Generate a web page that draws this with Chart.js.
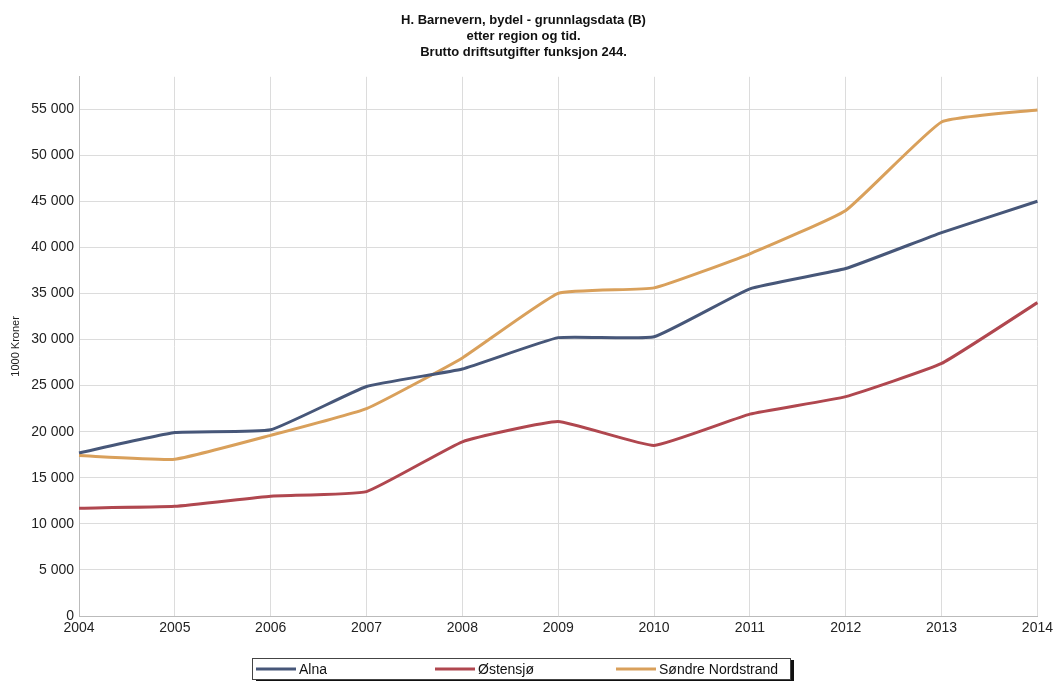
<!DOCTYPE html>
<html>
<head>
<meta charset="utf-8">
<title>Brutto driftsutgifter funksjon 244</title>
<script src="https://cdn.jsdelivr.net/npm/chart.js@4/dist/chart.umd.min.js"></script>
<style>
  html, body { margin: 0; padding: 0; background: #fff; }
  #wrap { width: 1057px; height: 682px; position: relative; }
</style>
</head>
<body>
<div id="wrap"><canvas id="chart"></canvas></div>
<script>
// years on the x axis
const years = ["2004", "2005", "2006", "2007", "2008", "2009", "2010", "2011", "2012", "2013", "2014"];

// y axis ticks, 1000 kroner
const yTicks = [0, 5000, 10000, 15000, 20000, 25000, 30000, 35000, 40000, 45000, 50000, 55000];

// 1000 kroner per bydel
const alna = [17700, 19900, 20200, 24900, 26800, 30200, 30300, 35500, 37700, 41600, 45000];
const ostensjo = [11700, 11900, 13000, 13500, 18900, 21100, 18500, 21900, 23800, 27400, 34000];
const sondreNordstrand = [17400, 17000, 19600, 22500, 28000, 35000, 35600, 39300, 44000, 53600, 54900];

const seriesNames = ["Alna", "Østensjø", "Søndre Nordstrand"];
const seriesColors = ["#475779", "#b0474f", "#d9a05b"];

const titleLines = [
  "H. Barnevern, bydel - grunnlagsdata (B)",
  "etter region og tid.",
  "Brutto driftsutgifter funksjon 244."
];

const FONT = "'Liberation Sans', Arial, sans-serif";
Chart.defaults.font.family = FONT;
Chart.defaults.color = "#222";

// "55 000" style thousands
function fmt(v) {
  return String(v).replace(/\B(?=(\d{3})+(?!\d))/g, " ");
}

// boxed legend with a drop shadow under the x axis
const boxLegend = {
  id: "boxLegend",
  afterDraw(chart, args, opts) {
    const ctx = chart.ctx;
    const { x, y, w, h, offsets } = opts;
    ctx.save();
    ctx.fillStyle = "#111";
    ctx.fillRect(x + 4, y + 2, w, h);
    ctx.fillStyle = "#fff";
    ctx.fillRect(x, y, w, h);
    ctx.strokeStyle = "#444";
    ctx.lineWidth = 1;
    ctx.strokeRect(x + 0.5, y + 0.5, w, h);
    ctx.font = "14px " + FONT;
    ctx.textBaseline = "middle";
    chart.data.datasets.forEach((ds, i) => {
      const lx = x + offsets[i];
      const cy = y + h / 2 + 0.5;
      ctx.strokeStyle = ds.borderColor;
      ctx.lineWidth = 3;
      ctx.beginPath();
      ctx.moveTo(lx, cy);
      ctx.lineTo(lx + 40, cy);
      ctx.stroke();
      ctx.fillStyle = "#111";
      ctx.fillText(ds.label, lx + 43, cy + 1);
    });
    ctx.restore();
  }
};

const series = [alna, ostensjo, sondreNordstrand];

new Chart(document.getElementById("chart"), {
  type: "line",
  data: {
    labels: years,
    datasets: series.map((data, i) => ({
      label: seriesNames[i],
      data: data,
      borderColor: seriesColors[i],
      backgroundColor: seriesColors[i],
      borderWidth: 3,
      pointRadius: 0,
      tension: 0.12,
      borderJoinStyle: "round"
    }))
  },
  options: {
    responsive: true,
    maintainAspectRatio: false,
    animation: false,
    layout: { padding: { left: 9, right: 19, top: 0, bottom: 0 } },
    plugins: {
      legend: { display: false },
      tooltip: { enabled: false },
      title: {
        display: true,
        text: titleLines,
        color: "#111",
        font: { size: 13, weight: "bold", lineHeight: 1.2 },
        padding: { top: 13, bottom: 17 }
      },
      boxLegend: { x: 252, y: 658, w: 538, h: 21, offsets: [4, 183, 364] }
    },
    scales: {
      x: {
        grid: { color: "#dcdcdc", drawTicks: false },
        border: { color: "#bbb" },
        ticks: { padding: 4, font: { size: 14 }, color: "#222", maxRotation: 0 },
        afterFit(scale) { scale.height = 66; }
      },
      y: {
        min: 0,
        max: 58500,
        grid: { color: "#dcdcdc", drawTicks: false },
        border: { color: "#bbb" },
        title: {
          display: true,
          text: "1000 Kroner",
          font: { size: 11 },
          color: "#222",
          padding: { top: 0, bottom: 0 }
        },
        ticks: {
          padding: 5,
          font: { size: 14 },
          color: "#222",
          autoSkip: false,
          callback: (v) => fmt(v)
        },
        afterBuildTicks(scale) {
          scale.ticks = yTicks.map((v) => ({ value: v }));
        },
        afterFit(scale) { scale.width = 70; }
      }
    }
  },
  plugins: [boxLegend]
});
</script>
</body>
</html>
